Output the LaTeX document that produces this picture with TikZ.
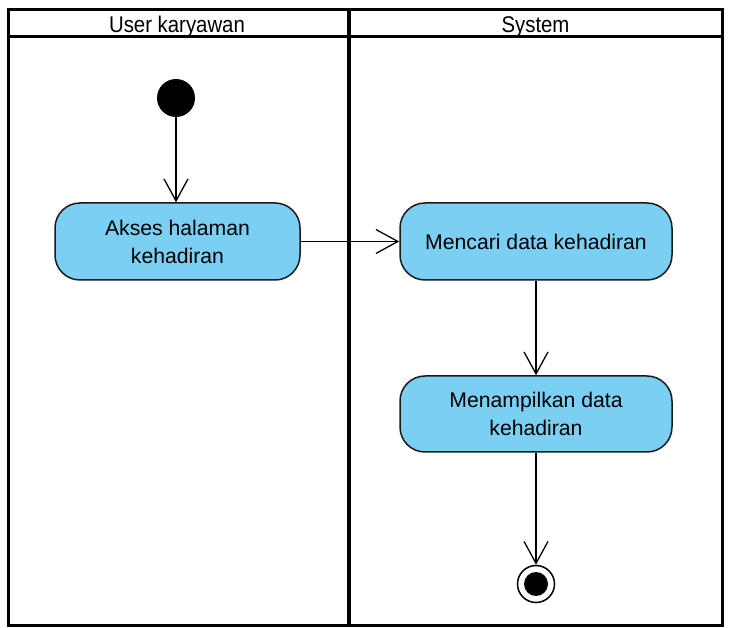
\documentclass[tikz,border=0pt]{standalone}
\usepackage{fontspec}
\setmainfont{Liberation Sans}
\usetikzlibrary{arrows.meta}
\definecolor{actfill}{HTML}{7ACFF3}
\begin{document}
\begin{tikzpicture}[x=1pt,y=-1pt,
  act/.style={draw=black!90,line width=1.5pt,fill=actfill,rounded corners=25pt,
    align=center,font=\fontsize{21.2}{28}\selectfont,inner sep=0pt},
  flow/.style={line width=1.3pt,-{Straight Barb[length=22pt,width=24pt,line width=1.3pt]}},
  frame/.style={line width=3pt},
  lanehead/.style={font=\fontsize{21}{24}\selectfont,inner sep=0pt}]
\useasboundingbox (0,0) rectangle (729,628);
% swimlane frame
\draw[frame] (8,10) rectangle (722,625);
\draw[frame] (8,37) -- (722,37);
\draw[line width=3.5pt] (349,10) -- (349,625);
\node[lanehead,anchor=base] (laneA) at (177,33) {\scalebox{0.97}[1.08]{User karyawan}};
\node[lanehead,anchor=base] (laneB) at (535.5,33) {\scalebox{0.97}[1.08]{System}};
% nodes
\node[circle,fill=black,minimum size=38pt,inner sep=0pt] (start) at (176,98) {};
\node[act,minimum width=245pt,minimum height=77pt] (a1) at (177.5,241.5) {Akses halaman\\kehadiran};
\node[act,minimum width=272pt,minimum height=77pt] (a2) at (536,241.5) {Mencari data kehadiran};
\node[act,minimum width=272pt,minimum height=76pt] (a3) at (536,414) {Menampilkan data\\kehadiran};
\node[circle,draw=black,line width=1.5pt,fill=white,minimum size=37pt,inner sep=0pt] (end) at (536,584) {};
\node[circle,fill=black,minimum size=24pt,inner sep=0pt] (endin) at (end.center) {};
% flows
\draw[flow] (start) -- (start|-a1.north);
\draw[flow] (a1.east) -- (a2.west);
\draw[flow] (a2) -- (a3);
\draw[flow] (a3) -- (end);
\end{tikzpicture}
\end{document}
